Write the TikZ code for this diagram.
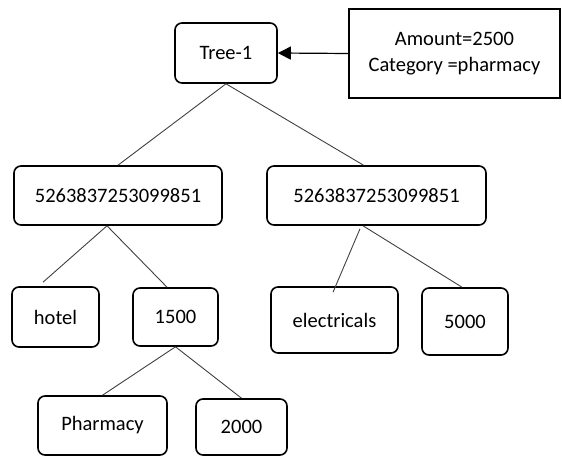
\documentclass[tikz,border=0pt]{standalone}
\usepackage{fontspec}
\setmainfont{Carlito}
\usepackage{tikz}
\usetikzlibrary{shapes,arrows,arrows.meta,positioning,calc}

\tikzset{
  treebox/.style={draw, line width=1.6pt, rounded corners=7pt, inner sep=0pt,
    font=\fontsize{20.5}{25}\selectfont},
  infobox/.style={draw, line width=1.6pt, inner sep=0pt, align=center,
    font=\fontsize{20.5}{26}\selectfont},
  branch/.style={draw=black!75, line width=0.9pt}
}

\begin{document}
\begin{tikzpicture}[x=1pt,y=-1pt]
            \useasboundingbox (0,0) rectangle (562,457);

            % Root and query
            \node[treebox, minimum width=102pt, minimum height=60pt] (tree) at (226,53) {Tree-1};
            \node[infobox, minimum width=211pt, minimum height=89pt] (query) at (454.5,53.5)
                {Amount=2500\\Category =pharmacy};
            \draw[line width=1.2pt, -{Triangle[length=13pt,width=13pt]}] (query.west) -- (tree.east);

            % Card numbers
            \node[treebox, minimum width=208pt, minimum height=59pt] (cardl) at (118,195.5) {5263837253099851};
            \node[treebox, minimum width=219pt, minimum height=59pt] (cardr) at (376.5,195.5) {5263837253099851\hspace{12pt}};

            % Leaves
            \node[treebox, minimum width=87pt, minimum height=60pt] (hotel) at (55.5,317) {hotel};
            \node[treebox, minimum width=85pt, minimum height=58pt] (amt1500) at (175.5,317) {1500};
            \node[treebox, minimum width=127pt, minimum height=66pt] (elec) at (334.5,320) {electricals};
            \node[treebox, minimum width=86pt, minimum height=67pt] (amt5000) at (465,321.5) {5000};
            \node[treebox, minimum width=129pt, minimum height=59pt] (pharm) at (102.5,425.5) {Pharmacy};
            \node[treebox, minimum width=91pt, minimum height=56pt] (amt2000) at (241.5,427) {2000};

            % Branches
            \draw[branch] (tree.south) -- (cardl.north);
            \draw[branch] (tree.south) -- ([xshift=-13pt]cardr.north);
            \draw[branch] ([xshift=-11pt]cardl.south) -- ([xshift=-12.5pt,yshift=4pt]hotel.north);
            \draw[branch] ([xshift=-11pt]cardl.south) -- ([xshift=-8.5pt]amt1500.north);
            \draw[branch] ([xshift=-16.5pt,yshift=-3pt]cardr.south) -- ([xshift=-1.5pt,yshift=-6pt]elec.north);
            \draw[branch] ([xshift=-13.5pt]cardr.south) -- ([xshift=-3pt]amt5000.north);
            \draw[branch] (amt1500.south) -- (pharm.north);
            \draw[branch] (amt1500.south) -- (amt2000.north);
        \end{tikzpicture}
\end{document}
